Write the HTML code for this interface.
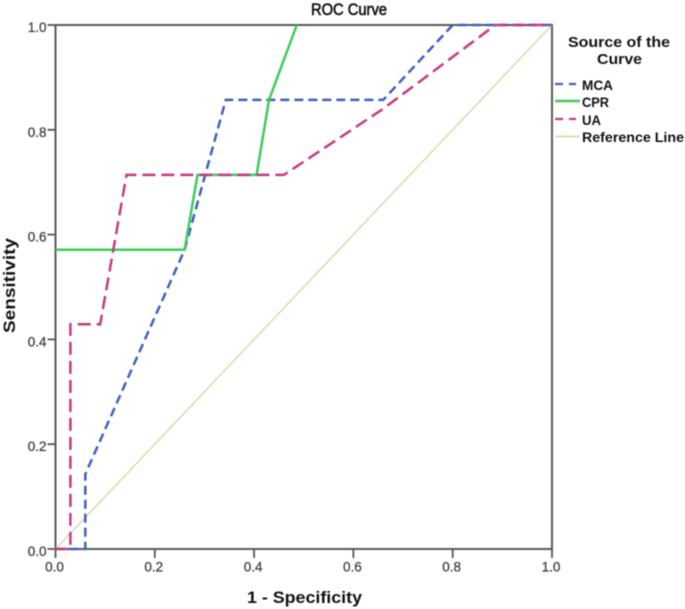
<!DOCTYPE html>
<html>
<head>
<meta charset="utf-8">
<style>
html,body{margin:0;padding:0;background:#fff;width:685px;height:609px;overflow:hidden}
svg{display:block;font-family:"Liberation Sans",sans-serif}
</style>
</head>
<body>
<svg id="chart" width="685" height="609" viewBox="0 0 685 609" xmlns="http://www.w3.org/2000/svg">
<g id="root" style="filter:blur(0.5px)">
<text x="311" y="15" font-size="17" textLength="76" lengthAdjust="spacingAndGlyphs" fill="#111" stroke="#111" stroke-width="0.6">ROC Curve</text>
<text x="247" y="603" font-size="17" font-weight="bold" textLength="115" lengthAdjust="spacingAndGlyphs" fill="#111">1 - Specificity</text>
<text transform="translate(15,333) rotate(-90)" font-size="17" font-weight="bold" textLength="95" lengthAdjust="spacingAndGlyphs" fill="#111">Sensitivity</text>
<g>
<text x="568" y="47" font-size="15" font-weight="bold" textLength="102" lengthAdjust="spacingAndGlyphs" fill="#111">Source of the</text>
<text x="597" y="64" font-size="15" font-weight="bold" textLength="45" lengthAdjust="spacingAndGlyphs" fill="#111">Curve</text>
<line x1="555" y1="84" x2="576" y2="84" stroke="#3f5fbf" stroke-width="2.2" stroke-dasharray="8 6"/>
<text x="582" y="90" font-size="13.5" font-weight="bold" textLength="31" lengthAdjust="spacingAndGlyphs" fill="#111">MCA</text>
<line x1="555" y1="101" x2="580" y2="101" stroke="#3ccb5c" stroke-width="2.4"/>
<text x="582" y="107" font-size="13.5" font-weight="bold" textLength="27" lengthAdjust="spacingAndGlyphs" fill="#111">CPR</text>
<line x1="555" y1="119" x2="576" y2="119" stroke="#c8387f" stroke-width="2.2" stroke-dasharray="8 6"/>
<text x="582" y="125" font-size="13.5" font-weight="bold" textLength="19" lengthAdjust="spacingAndGlyphs" fill="#111">UA</text>
<line x1="555" y1="136.5" x2="580" y2="136.5" stroke="#e3dcb0" stroke-width="2"/>
<text x="582" y="142" font-size="13.5" font-weight="bold" textLength="102" lengthAdjust="spacingAndGlyphs" fill="#111">Reference Line</text>
</g>
</g>
<script>
const tickValues = [0, 0.2, 0.4, 0.6, 0.8, 1.0];
const tickLabels = ['0.0', '0.2', '0.4', '0.6', '0.8', '1.0'];
const referenceX = [0, 1];
const referenceY = [0, 1];
const mcaX = [0, 0.06, 0.06, 0.26, 0.343, 0.66, 0.8, 1];
const mcaY = [0, 0, 0.143, 0.571, 0.857, 0.857, 1, 1];
const cprX = [0, 0.26, 0.286, 0.405, 0.43, 0.486];
const cprY = [0.571, 0.571, 0.714, 0.714, 0.857, 1];
const uaX = [0, 0.03, 0.03, 0.09, 0.143, 0.46, 0.66, 0.886, 1];
const uaY = [0, 0, 0.429, 0.429, 0.714, 0.714, 0.84, 1, 1];

const NS = 'http://www.w3.org/2000/svg';
const root = document.getElementById('root');
function sx(v) { return 55.5 + v * 496.5; }
function sy(v) { return 549 - v * 524; }
function make(tag, attrs, parent) {
  const el = document.createElementNS(NS, tag);
  for (const k in attrs) el.setAttribute(k, attrs[k]);
  (parent || root).appendChild(el);
  return el;
}
function pts(xs, ys) {
  return xs.map(function (x, i) { return sx(x).toFixed(1) + ',' + sy(ys[i]).toFixed(1); }).join(' ');
}

const frame = make('path', {
  d: 'M' + sx(0) + ' ' + sy(1) + 'H' + sx(1) + 'V' + sy(0) + 'H' + sx(0) + 'Z',
  fill: 'none', stroke: '#5a5a5a', 'stroke-width': 2
});



tickValues.forEach(function (v, i) {
  const xt = make('line', { x1: sx(v), x2: sx(v), y1: sy(0), y2: sy(0) + 9, stroke: '#555', 'stroke-width': 1.8 });
  
  
  const yt = make('line', { x1: sx(0) - 8, x2: sx(0), y1: sy(v), y2: sy(v), stroke: '#555', 'stroke-width': 1.8 });
  
  
  const xl = make('text', { x: sx(v) - 1, y: 571.5, 'font-size': 13.5, 'text-anchor': 'middle', fill: '#444', stroke: '#444', 'stroke-width': 0.3 });
  xl.textContent = tickLabels[i];
  
  
  const yl = make('text', { x: 46.5, y: sy(v) + 7, 'font-size': 13.5, 'text-anchor': 'end', fill: '#444', stroke: '#444', 'stroke-width': 0.3 });
  yl.textContent = tickLabels[i];
  
  
});

const refLine = make('polyline', { points: pts(referenceX, referenceY), fill: 'none', stroke: '#e3dcb0', 'stroke-width': 1.7 });



const mcaLine = make('polyline', { points: pts(mcaX, mcaY), fill: 'none', stroke: '#3f5fbf', 'stroke-width': 2.5, 'stroke-dasharray': '9 5' });



const cprLine = make('polyline', { points: pts(cprX, cprY), fill: 'none', stroke: '#3ccb5c', 'stroke-width': 2.5 });



const uaLine = make('polyline', { points: pts(uaX, uaY), fill: 'none', stroke: '#c8387f', 'stroke-width': 2.5, 'stroke-dasharray': '13 6' });


</script>
</svg>
</body>
</html>
